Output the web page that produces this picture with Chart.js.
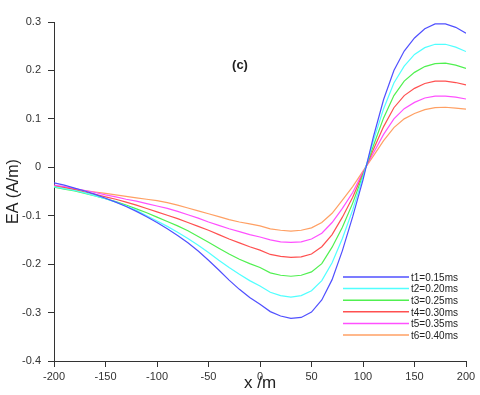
<!DOCTYPE html>
<html>
<head>
<meta charset="utf-8">
<script src="https://cdn.jsdelivr.net/npm/chart.js@4.4.1/dist/chart.umd.min.js"></script>
<style>
  body { margin: 0; background: #fff; }
</style>
</head>
<body>
<canvas id="myChart" width="480" height="395"></canvas>
<script>
//x positions in metres (step 10)
const xValues = [-200,-190,-180,-170,-160,-150,-140,-130,-120,-110,-100,-90,-80,-70,-60,-50,-40,-30,-20,-10,
  0,10,20,30,40,50,60,70,80,90,100,110,120,130,140,150,160,170,180,190,200];

//EA values for each time
const t1 = [-0.032,-0.037,-0.043,-0.049,-0.056,-0.064,-0.072,-0.081,-0.091,-0.102,-0.114,-0.127,-0.141,-0.156,-0.173,-0.192,-0.212,-0.233,-0.252,-0.269,
  -0.283,-0.298,-0.307,-0.312,-0.310,-0.299,-0.274,-0.232,-0.172,-0.102,-0.026,0.062,0.140,0.200,0.240,0.267,0.286,0.296,0.296,0.289,0.277];
const t2 = [-0.040,-0.044,-0.048,-0.053,-0.059,-0.065,-0.072,-0.080,-0.089,-0.100,-0.111,-0.122,-0.134,-0.147,-0.161,-0.176,-0.192,-0.207,-0.221,-0.234,
  -0.245,-0.258,-0.265,-0.268,-0.265,-0.255,-0.234,-0.197,-0.147,-0.088,-0.020,0.054,0.121,0.174,0.209,0.233,0.247,0.254,0.254,0.248,0.239];
const t3 = [-0.041,-0.045,-0.049,-0.054,-0.059,-0.065,-0.071,-0.078,-0.086,-0.094,-0.103,-0.112,-0.121,-0.131,-0.143,-0.155,-0.167,-0.179,-0.190,-0.199,
  -0.207,-0.218,-0.223,-0.225,-0.223,-0.216,-0.199,-0.165,-0.124,-0.074,-0.016,0.044,0.102,0.148,0.178,0.196,0.208,0.214,0.215,0.211,0.204];
const t4 = [-0.039,-0.042,-0.046,-0.051,-0.056,-0.061,-0.066,-0.072,-0.078,-0.085,-0.092,-0.099,-0.106,-0.114,-0.122,-0.130,-0.139,-0.148,-0.156,-0.164,
  -0.171,-0.180,-0.184,-0.186,-0.185,-0.179,-0.164,-0.139,-0.103,-0.062,-0.013,0.036,0.084,0.123,0.148,0.163,0.173,0.178,0.178,0.175,0.170];
const t5 = [-0.037,-0.040,-0.044,-0.048,-0.052,-0.057,-0.061,-0.066,-0.070,-0.075,-0.080,-0.085,-0.091,-0.098,-0.105,-0.113,-0.120,-0.127,-0.133,-0.139,
  -0.144,-0.150,-0.154,-0.155,-0.154,-0.148,-0.136,-0.114,-0.085,-0.052,-0.010,0.029,0.068,0.100,0.121,0.134,0.143,0.147,0.147,0.145,0.141];
const t6 = [-0.039,-0.042,-0.045,-0.048,-0.051,-0.054,-0.057,-0.060,-0.063,-0.066,-0.069,-0.073,-0.078,-0.084,-0.090,-0.096,-0.102,-0.108,-0.113,-0.117,
  -0.121,-0.127,-0.130,-0.132,-0.130,-0.125,-0.114,-0.095,-0.068,-0.040,-0.008,0.023,0.055,0.082,0.100,0.111,0.119,0.123,0.124,0.122,0.120];

const seriesNames = ['t1=0.15ms','t2=0.20ms','t3=0.25ms','t4=0.30ms','t5=0.35ms','t6=0.40ms'];
const seriesValues = [t1, t2, t3, t4, t5, t6];

//tick labels
const xTicks = [-200,-150,-100,-50,0,50,100,150,200];
const yTicks = [-0.4,-0.3,-0.2,-0.1,0,0.1,0.2,0.3];

const LINECOLORS = [
  'rgb(80, 80, 255)',
  'rgb(80, 255, 255)',
  'rgb(80, 240, 80)',
  'rgb(255, 80, 80)',
  'rgb(255, 80, 255)',
  'rgb(255, 160, 100)'
];

const FONT = "'Liberation Sans', Arial, sans-serif";
const AXISCOLOR = '#333';

const data = {
  datasets: []
};

for (let i = 0; i < seriesValues.length; i++) {
  let pts = [];
  for (let j = 0; j < xValues.length; j++) {
    pts.push({x: xValues[j], y: seriesValues[i][j]});
  }
  data.datasets.push({
    label: seriesNames[i],
    data: pts,
    borderColor: LINECOLORS[i],
    backgroundColor: LINECOLORS[i],
    borderWidth: 1.2,
    pointRadius: 0,
    tension: 0
  });
}

//legend inside plot + "(c)" label
const extraText = {
  id: 'extraText',
  afterDraw(chart) {
    const ctx = chart.ctx;
    const area = chart.chartArea;
    ctx.save();
    ctx.fillStyle = '#222';
    ctx.font = 'bold 13px ' + FONT;
    ctx.textAlign = 'center';
    ctx.textBaseline = 'middle';
    ctx.fillText('(c)', 240, 65);

    ctx.font = '10px ' + FONT;
    ctx.textAlign = 'left';
    let y0 = area.bottom - 84;
    chart.data.datasets.forEach((ds, i) => {
      let y = y0 + i * 11.6;
      ctx.strokeStyle = ds.borderColor;
      ctx.lineWidth = 1.5;
      ctx.beginPath();
      ctx.moveTo(area.right - 123, y);
      ctx.lineTo(area.right - 57, y);
      ctx.stroke();
      ctx.fillStyle = '#222';
      ctx.fillText(ds.label, area.right - 55, y + 1);
    });
    ctx.restore();
  }
};

const config = {
  type: 'line',
  data: data,
  options: {
    responsive: false,
    animation: false,
    layout: {
      padding: {top: 22, right: 14, left: 0, bottom: 0}
    },
    plugins: {
      legend: {display: false},
      tooltip: {enabled: false}
    },
    scales: {
      x: {
        type: 'linear',
        min: -200,
        max: 200,
        afterBuildTicks: (scale) => { scale.ticks = xTicks.map(v => ({value: v})); },
        afterFit: (scale) => { scale.height = 34; },
        grid: {drawOnChartArea: false, drawTicks: true, tickLength: 6, color: AXISCOLOR},
        border: {display: true, color: AXISCOLOR},
        ticks: {
          color: AXISCOLOR,
          padding: 3,
          maxRotation: 0,
          font: {family: FONT, size: 11},
          callback: (v) => String(v)
        },
        title: {
          display: true,
          text: 'x /m',
          color: '#222',
          font: {family: FONT, size: 17},
          padding: {top: 0, bottom: 1}
        }
      },
      y: {
        type: 'linear',
        min: -0.4,
        max: 0.3,
        afterBuildTicks: (scale) => { scale.ticks = yTicks.map(v => ({value: v})); },
        afterFit: (scale) => { scale.width = 54; },
        grid: {drawOnChartArea: false, drawTicks: true, tickLength: 6, color: AXISCOLOR},
        border: {display: true, color: AXISCOLOR},
        ticks: {
          color: AXISCOLOR,
          padding: 7,
          font: {family: FONT, size: 11},
          callback: (v) => String(Math.round(v * 10) / 10)
        },
        title: {
          display: true,
          text: 'EA (A/m)',
          color: '#222',
          font: {family: FONT, size: 16},
          padding: {top: 4, bottom: 0}
        }
      }
    }
  },
  plugins: [extraText]
};

const myChart = new Chart(document.getElementById('myChart'), config);
</script>
</body>
</html>
